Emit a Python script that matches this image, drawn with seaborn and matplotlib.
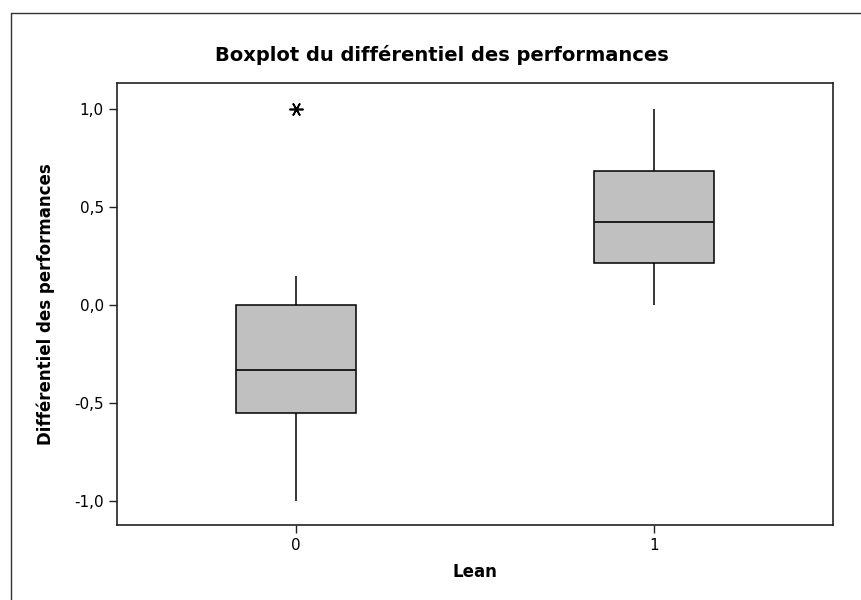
import pandas as pd
import matplotlib
matplotlib.use("Agg")
import matplotlib.pyplot as plt
import seaborn as sns
from matplotlib.lines import Line2D
from matplotlib.ticker import FuncFormatter

# values (quartiles, whisker ends, outlier)
lean_0 = [-1.0, -0.55, -0.55, -0.33, -0.33, 0.0, 0.0, 0.15, 1.0]
lean_1 = [0.0, 0.215, 0.42, 0.68, 1.0]
categories = ["0", "1"]
y_ticks = [-1.0, -0.5, 0.0, 0.5, 1.0]

data = pd.DataFrame({
    "Lean": [categories[0]] * len(lean_0) + [categories[1]] * len(lean_1),
    "diff": lean_0 + lean_1,
})

sns.set_style("ticks")
plt.rcParams["font.family"] = ["DejaVu Sans"]
plt.rcParams["text.color"] = "black"
plt.rcParams["axes.labelcolor"] = "black"

fig = plt.figure(figsize=(8.61, 6.0), dpi=100)
ax = fig.add_axes([117 / 861, 75 / 600, 716 / 861, 442 / 600])

sns.boxplot(
    data=data, x="Lean", y="diff", order=categories, ax=ax,
    width=0.333, color="#c0c0c0", linecolor="black", linewidth=1.1,
    showcaps=False, saturation=1, whis=1.5,
    flierprops=dict(marker=(6, 2, 90), markersize=10, markerfacecolor="black",
                    markeredgecolor="black", markeredgewidth=1.2),
    medianprops=dict(color="#111111", linewidth=1.3),
)

ax.set_xlim(-0.5, 1.5)
ax.set_ylim(-1.12, 1.13)
ax.set_yticks(y_ticks)
ax.yaxis.set_major_formatter(FuncFormatter(lambda v, p: f"{v:.1f}".replace(".", ",")))

# title sits a little left of the axes centre in the reference
fig.text(442 / 861, 1 - 55 / 600, "Boxplot du différentiel des performances",
         fontsize=14, fontweight="bold", color="black", ha="center", va="center")
ax.set_xlabel("Lean", fontsize=12, fontweight="bold", labelpad=7)
ax.set_ylabel("Différentiel des performances", fontsize=12,
              fontweight="bold", labelpad=14)

for side in ["top", "right", "left", "bottom"]:
    ax.spines[side].set_visible(True)
    ax.spines[side].set_linewidth(1.2)
    ax.spines[side].set_color("#222222")
ax.tick_params(axis="both", direction="out", length=6, width=1,
               labelsize=11, colors="#222222", labelcolor="black")

# outer frame (top and left edges, as in the reference)
fig.add_artist(Line2D([11 / 861, 11 / 861], [0, 1 - 13 / 600],
                      transform=fig.transFigure, color="#333333", lw=1))
fig.add_artist(Line2D([11 / 861, 1], [1 - 13 / 600, 1 - 13 / 600],
                      transform=fig.transFigure, color="#333333", lw=1))

fig.savefig("out.png", dpi=100)
